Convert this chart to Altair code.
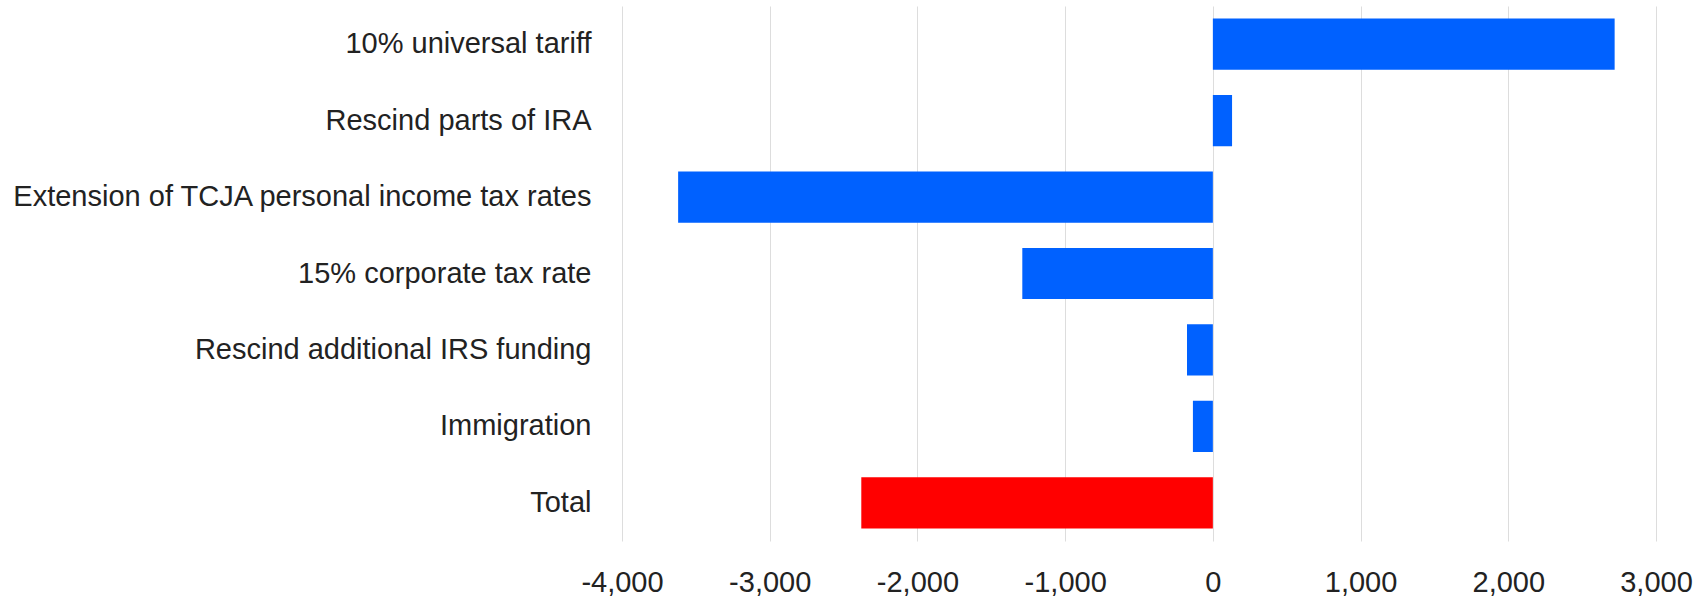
import altair as alt
import pandas as pd

# Estimated effect of each policy (x-axis units as labelled)
policies = [
    "10% universal tariff",
    "Rescind parts of IRA",
    "Extension of TCJA personal income tax rates",
    "15% corporate tax rate",
    "Rescind additional IRS funding ",
    "Immigration",
    "Total",
]
values = [2720, 130, -3620, -1290, -175, -135, -2380]
x_ticks = [-4000, -3000, -2000, -1000, 0, 1000, 2000, 3000]

df = pd.DataFrame({"policy": policies, "value": values})

FONT = "Arial, Liberation Sans, sans-serif"

chart = (
    alt.Chart(df)
    .mark_bar()
    .encode(
        y=alt.Y(
            "policy:N",
            sort=policies,
            title=None,
            scale=alt.Scale(paddingInner=0.33, paddingOuter=0.165),
            axis=alt.Axis(
                domain=False,
                ticks=False,
                grid=False,
                labelPadding=31,
                labelFont=FONT,
                labelFontSize=29,
                labelColor="#222222",
                labelLimit=800,
            ),
        ),
        x=alt.X(
            "value:Q",
            title=None,
            scale=alt.Scale(domain=[-4000, 3000], nice=False, zero=True),
            axis=alt.Axis(
                values=x_ticks,
                domain=False,
                ticks=False,
                grid=True,
                gridColor="#dddddd",
                gridWidth=1,
                labelFlush=False,
                labelOverlap=False,
                labelPadding=27,
                labelFont=FONT,
                labelFontSize=29,
                labelColor="#222222",
                labelExpr="replace(format(datum.value, ','), '\u2212', '-')",
            ),
        ),
        color=alt.condition(
            alt.datum.policy == "Total",
            alt.value("#ff0000"),
            alt.value("#0061ff"),
        ),
    )
    .properties(
        width=1034,
        height=535,
        background="white",
        autosize=alt.AutoSizeParams(type="none"),
        padding={"left": 622, "top": 6, "right": 52, "bottom": 59},
    )
    .configure_view(strokeWidth=0, stroke="transparent")
)

chart.save("out.html", embed_options={"renderer": "svg", "actions": False})
